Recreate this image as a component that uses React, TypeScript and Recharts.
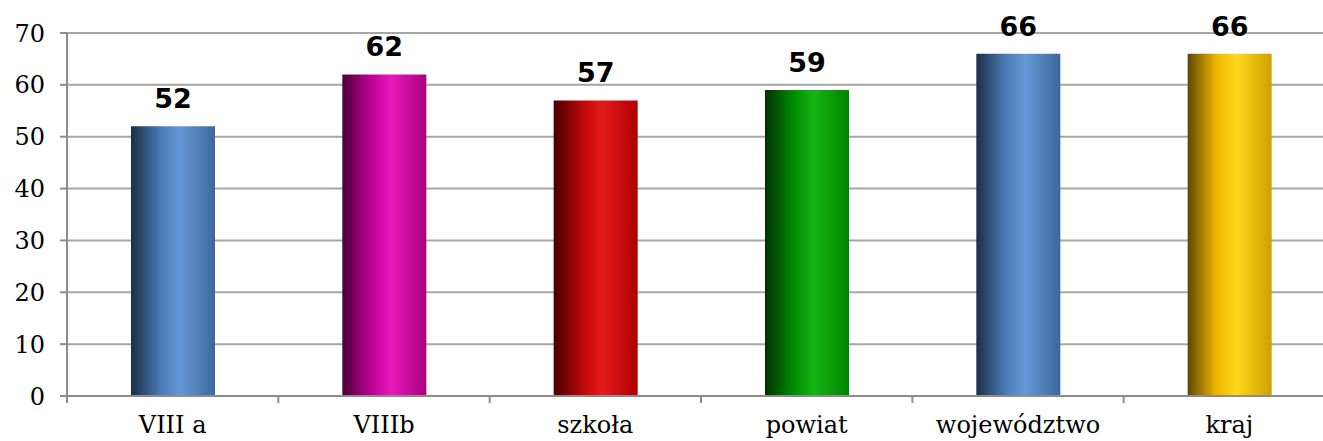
import React from 'react';
import { BarChart, Bar, XAxis, YAxis, CartesianGrid, Cell, LabelList } from 'recharts';

const categories = ['VIII a', 'VIIIb', 'szkoła', 'powiat', 'województwo', 'kraj'];
const values = [52, 62, 57, 59, 66, 66];
const yTicks = [0, 10, 20, 30, 40, 50, 60, 70];

// dark edge, bright middle, medium right edge for each bar
const barGradients = [
  ['#1c2e48', '#4a7ab5', '#6499d6', '#3d679c'],
  ['#4c0034', '#c00098', '#e818bc', '#a8007e'],
  ['#460000', '#c00808', '#e41a1a', '#ae0000'],
  ['#003000', '#009000', '#14b414', '#008400'],
  ['#1c2e48', '#4a7ab5', '#6499d6', '#3d679c'],
  ['#5e4700', '#f0b800', '#ffd81a', '#d0a000'],
];

const data = categories.map((name, i) => ({ name, value: values[i] }));

const serif = '"DejaVu Serif", serif';
const axisColor = '#8c8c8c';

const CategoryTick = (props: any) => {
  const { x, y, payload } = props;
  const half = payload && payload.offset ? payload.offset : 105.7;
  return (
    <g>
      <line x1={x - half} x2={x - half} y1={y} y2={y + 7} stroke={axisColor} strokeWidth={2} />
      <text x={x} y={y + 37} textAnchor="middle" fill="#000" fontFamily={serif} fontSize={24}>
        {payload.value}
      </text>
    </g>
  );
};

const App: React.FC = () => {
  return (
    <div style={{ position: 'fixed', left: 0, top: 0, width: 1323, height: 441, overflow: 'hidden', background: '#fff' }}>
      <BarChart width={1335} height={441} data={data} margin={{ top: 33, right: 0, left: 0, bottom: 0 }}>
        <defs>
          {barGradients.map((g, i) => (
            <linearGradient key={i} id={`bar${i}`} x1="0" y1="0" x2="1" y2="0">
              <stop offset="0%" stopColor={g[0]} />
              <stop offset="35%" stopColor={g[1]} />
              <stop offset="58%" stopColor={g[2]} />
              <stop offset="100%" stopColor={g[3]} />
            </linearGradient>
          ))}
        </defs>
        <CartesianGrid vertical={false} stroke="#a6a6a6" strokeWidth={2} />
        <XAxis
          dataKey="name"
          height={45}
          tickLine={false}
          tickSize={0}
          tickMargin={0}
          axisLine={{ stroke: axisColor, strokeWidth: 2 }}
          tick={<CategoryTick />}
          interval={0}
        />
        <YAxis
          width={67}
          domain={[0, 70]}
          ticks={yTicks}
          interval={0}
          tickSize={7}
          tickMargin={15}
          axisLine={{ stroke: axisColor, strokeWidth: 2 }}
          tickLine={{ stroke: axisColor, strokeWidth: 2 }}
          tick={{ fill: '#000', fontFamily: serif, fontSize: 24 }}
        />
        <Bar dataKey="value" barSize={84} isAnimationActive={false}>
          {data.map((_, i) => (
            <Cell key={i} fill={`url(#bar${i})`} />
          ))}
          <LabelList
            dataKey="value"
            position="top"
            offset={18}
            fill="#000"
            fontFamily='"DejaVu Sans", sans-serif'
            fontWeight="bold"
            fontSize={27}
          />
        </Bar>
      </BarChart>
    </div>
  );
};

export default App;
